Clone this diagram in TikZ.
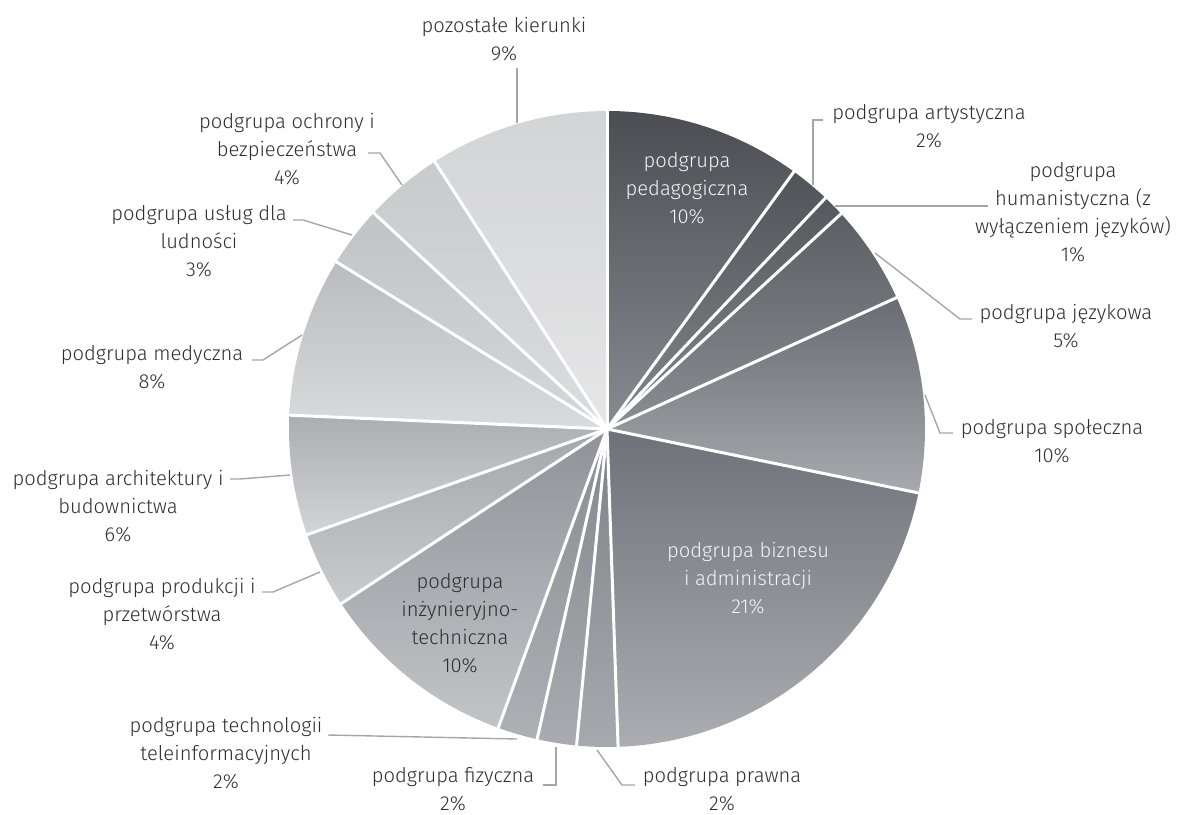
\documentclass[tikz,border=0pt]{standalone}
\usepackage{fontspec}
\setmainfont{Fira Sans Light}
\definecolor{txt}{HTML}{2E2E2E}
\definecolor{wtxt}{HTML}{F4F4F4}
\definecolor{ldr}{HTML}{A6A6A6}
\definecolor{s1t}{HTML}{4B4D52}\definecolor{s1b}{HTML}{888B91}
\definecolor{s2t}{HTML}{505357}\definecolor{s2b}{HTML}{83868C}
\definecolor{s3t}{HTML}{55585D}\definecolor{s3b}{HTML}{85888D}
\definecolor{s4t}{HTML}{5B5E63}\definecolor{s4b}{HTML}{8A8D92}
\definecolor{s5t}{HTML}{686B72}\definecolor{s5b}{HTML}{A8AAAE}
\definecolor{s6t}{HTML}{6E7178}\definecolor{s6b}{HTML}{ABADB1}
\definecolor{s7t}{HTML}{7E8187}\definecolor{s7b}{HTML}{A6A9AD}
\definecolor{s8t}{HTML}{83868C}\definecolor{s8b}{HTML}{A9ABB0}
\definecolor{s9t}{HTML}{888B91}\definecolor{s9b}{HTML}{ADB0B4}
\definecolor{s10t}{HTML}{8F9298}\definecolor{s10b}{HTML}{C2C4C7}
\definecolor{s11t}{HTML}{A4A6AA}\definecolor{s11b}{HTML}{C9CBCD}
\definecolor{s12t}{HTML}{ABADB1}\definecolor{s12b}{HTML}{D3D4D6}
\definecolor{s13t}{HTML}{B9BBBE}\definecolor{s13b}{HTML}{DADBDC}
\definecolor{s14t}{HTML}{C1C3C6}\definecolor{s14b}{HTML}{D6D7D9}
\definecolor{s15t}{HTML}{C8CACC}\definecolor{s15b}{HTML}{DCDDDF}
\definecolor{s16t}{HTML}{D3D4D6}\definecolor{s16b}{HTML}{E6E6E7}
\begin{document}
\begin{tikzpicture}[x=1pt,y=-1pt,
  font=\fontsize{20.2}{28}\selectfont,
  lbl/.style={align=center,text=txt,inner sep=0pt},
  wlbl/.style={align=center,text=wtxt,inner sep=0pt},
  leader/.style={draw=ldr,line width=1.4pt},
  sep/.style={draw=white,line width=3pt}]
\useasboundingbox (0,0) rectangle (1180,814);
\coordinate (C) at (607,429);
% slices
\foreach \a/\b/\n in {0/36/1,36/43.4/2,43.4/47.4/3,47.4/65.6/4,65.6/101.6/5,
  101.6/178/6,178/185.5/7,185.5/192.7/8,192.7/200/9,200/236.7/10,236.7/250.6/11,
  250.6/272.5/12,272.5/301.7/13,301.7/312.8/14,312.8/327.2/15,327.2/360/16}{
  \shade[top color=s\n t,bottom color=s\n b] (C) -- +(\a-90:318)
    arc[start angle=\a-90,end angle=\b-90,radius=318] -- cycle;
}
% separators
\foreach \a in {0,36,43.4,47.4,65.6,101.6,178,185.5,192.7,200,236.7,250.6,272.5,301.7,312.8,327.2}{
  \draw[sep] (C) -- +(\a-90:319);
}
% inside labels
\node[wlbl] (ped) at (687,188) {podgrupa\\pedagogiczna\\10\%};
\node[wlbl] (biz) at (748,578) {podgrupa biznesu\\i administracji\\21\%};
\node[lbl] (inz) at (460,623) {podgrupa\\inżynieryjno-\\techniczna\\10\%};
% outside labels
\node[lbl] (poz) at (504,39) {pozostałe kierunki\\9\%};
\node[lbl] (art) at (929,126) {podgrupa artystyczna\\2\%};
\node[lbl] (hum) at (1073,212) {podgrupa\\humanistyczna (z\\wyłączeniem języków)\\1\%};
\node[lbl] (jez) at (1066,326) {podgrupa językowa\\5\%};
\node[lbl] (spo) at (1052,441) {podgrupa społeczna\\10\%};
\node[lbl] (pra) at (722,789) {podgrupa prawna\\2\%};
\node[lbl] (fiz) at (453,789) {podgrupa fizyczna\\2\%};
\node[lbl] (tel) at (226,753) {podgrupa technologii\\teleinformacyjnych\\2\%};
\node[lbl] (pro) at (162,614) {podgrupa produkcji i\\przetwórstwa\\4\%};
\node[lbl] (arc) at (118,506) {podgrupa architektury i\\budownictwa\\6\%};
\node[lbl] (med) at (152,367) {podgrupa medyczna\\8\%};
\node[lbl] (usl) at (199,241) {podgrupa usług dla\\ludności\\3\%};
\node[lbl] (och) at (287,149) {podgrupa ochrony i\\bezpieczeństwa\\4\%};
% leader points
\coordinate (art0) at (813,185); \coordinate (art1) at (813,120); \coordinate (art2) at (823,120);
\coordinate (hum0) at (835,206); \coordinate (hum1) at (988,206);
\coordinate (jez0) at (875,253); \coordinate (jez1) at (960,319); \coordinate (jez2) at (972,319);
\coordinate (spo0) at (925,395); \coordinate (spo1) at (940,433); \coordinate (spo2) at (953,433);
\coordinate (pra0) at (597,750); \coordinate (pra1) at (622,785); \coordinate (pra2) at (635,785);
\coordinate (fiz0) at (556,747); \coordinate (fiz1) at (556,785); \coordinate (fiz2) at (543,785);
\coordinate (tel0) at (517,739); \coordinate (tel1) at (328,735);
\coordinate (pro0) at (320,572); \coordinate (pro1) at (273,592); \coordinate (pro2) at (262,592);
\coordinate (arc0) at (290,475); \coordinate (arc1) at (240,479); \coordinate (arc2) at (230,479);
\coordinate (med0) at (302,335); \coordinate (med1) at (263,360); \coordinate (med2) at (252,360);
\coordinate (usl0) at (352,235); \coordinate (usl1) at (303,220); \coordinate (usl2) at (293,220);
\coordinate (och0) at (402,185); \coordinate (och1) at (380,153); \coordinate (och2) at (368,153);
\coordinate (poz0) at (517,123); \coordinate (poz1) at (517,68);
\draw[leader] (art0) -- (art1) -- (art2);
\draw[leader] (hum0) -- (hum1);
\draw[leader] (jez0) -- (jez1) -- (jez2);
\draw[leader] (spo0) -- (spo1) -- (spo2);
\draw[leader] (pra0) -- (pra1) -- (pra2);
\draw[leader] (fiz0) -- (fiz1) -- (fiz2);
\draw[leader] (tel0) -- (tel1);
\draw[leader] (pro0) -- (pro1) -- (pro2);
\draw[leader] (arc0) -- (arc1) -- (arc2);
\draw[leader] (med0) -- (med1) -- (med2);
\draw[leader] (usl0) -- (usl1) -- (usl2);
\draw[leader] (och0) -- (och1) -- (och2);
\draw[leader] (poz0) -- (poz1);
\end{tikzpicture}
\end{document}
